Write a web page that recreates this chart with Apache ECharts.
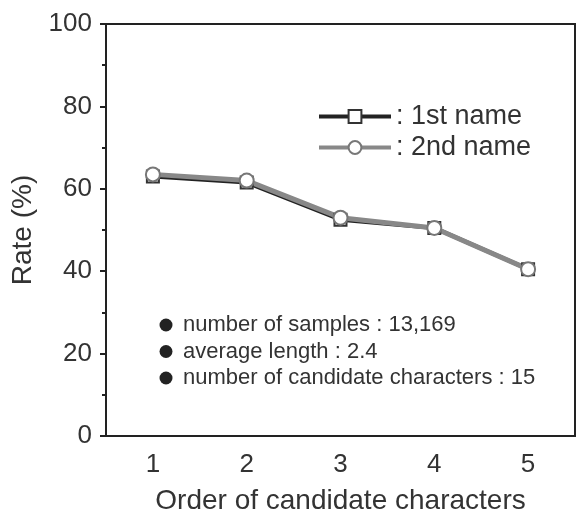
<!DOCTYPE html>
<html><head><meta charset="utf-8">
<script src="https://cdn.jsdelivr.net/npm/echarts@6/dist/echarts.min.js"></script>
<style>html,body{margin:0;padding:0;background:#fff}#c{width:578px;height:522px}</style>
</head><body><div id="c"></div>
<script>
var categories = ['1', '2', '3', '4', '5'];
var firstName = [63, 61.5, 52.5, 50.5, 40.5];
var secondName = [63.5, 62, 53, 50.5, 40.5];
var yTicks = [0, 20, 40, 60, 80, 100];
var notes = ['number of samples : 13,169', 'average length : 2.4', 'number of candidate characters : 15'];

var F = 'Liberation Sans, Arial, sans-serif';
var chart = echarts.init(document.getElementById('c'));
var graphics = [];
notes.forEach(function (t, i) {
  var cy = 325 + i * 26.5;
  graphics.push({type: 'circle', shape: {cx: 166, cy: cy, r: 6.5}, style: {fill: '#222'}});
  graphics.push({type: 'text', x: 183, y: cy, style: {text: t, font: '22px ' + F, fill: '#333', verticalAlign: 'middle'}});
});
chart.setOption({
  animation: false,
  backgroundColor: '#fff',
  grid: {left: 106, top: 24, width: 469, height: 412, show: true, borderColor: '#222', borderWidth: 2, backgroundColor: 'transparent'},
  legend: {
    orient: 'vertical', left: 312, top: 98, itemWidth: 72, itemHeight: 16, itemGap: 4,
    formatter: function (n) { return ': ' + n; },
    textStyle: {fontFamily: F, fontSize: 27, color: '#333'},
    lineStyle: {width: 4},
    data: ['1st name', '2nd name']
  },
  xAxis: {
    type: 'category', data: categories, boundaryGap: true,
    name: 'Order of candidate characters', nameLocation: 'middle', nameGap: 51,
    nameTextStyle: {fontFamily: F, fontSize: 28, color: '#333'},
    axisLine: {lineStyle: {color: '#222', width: 2}},
    axisTick: {alignWithLabel: true, length: 5, lineStyle: {color: '#222', width: 2}},
    axisLabel: {fontFamily: F, fontSize: 26, color: '#333', margin: 16},
    splitLine: {show: false}
  },
  yAxis: {
    type: 'value', min: 0, max: 100, interval: 20,
    name: 'Rate (%)', nameLocation: 'middle', nameGap: 63, nameRotate: 90,
    nameTextStyle: {fontFamily: F, fontSize: 28, color: '#333'},
    axisLine: {show: true, lineStyle: {color: '#222', width: 2}},
    axisTick: {show: true, length: 6, lineStyle: {color: '#222', width: 2}},
    minorTick: {show: true, splitNumber: 2, length: 4, lineStyle: {color: '#222', width: 2}},
    axisLabel: {fontFamily: F, fontSize: 26, color: '#333', margin: 14,
      formatter: function (v) { return yTicks.indexOf(v) >= 0 ? String(v) : ''; }},
    splitLine: {show: false}
  },
  series: [{
    name: '1st name', type: 'line', data: firstName,
    symbol: 'rect', symbolSize: 12,
    lineStyle: {color: '#222', width: 4},
    itemStyle: {color: '#fff', borderColor: '#333', borderWidth: 2}
  }, {
    name: '2nd name', type: 'line', data: secondName,
    symbol: 'circle', symbolSize: 14,
    lineStyle: {color: '#888', width: 5},
    itemStyle: {color: '#fff', borderColor: '#777', borderWidth: 2}
  }],
  graphic: graphics
});
</script></body></html>
